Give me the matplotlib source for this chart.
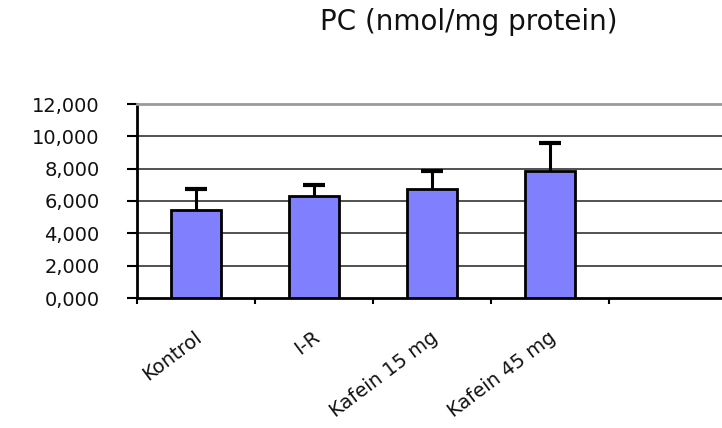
import matplotlib
matplotlib.use("Agg")
import matplotlib.pyplot as plt
from matplotlib.ticker import FuncFormatter, FixedLocator
from matplotlib.transforms import offset_copy

# PC levels per group (nmol/mg protein) with SD
groups = ["Kontrol", "I-R", "Kafein 15 mg", "Kafein 45 mg"]
pc_mean = [5.43, 6.30, 6.72, 7.87]
pc_sd = [1.29, 0.68, 1.15, 1.73]
n_slots = 5  # the category axis keeps one empty slot on the right
y_ticks = [0, 2, 4, 6, 8, 10, 12]

plt.rcParams["font.family"] = ["DejaVu Sans"]

fig = plt.figure(figsize=(7.22, 4.28), dpi=100)
ax = fig.add_axes([137 / 722, 130 / 428, 590 / 722, 194 / 428])

x = list(range(len(groups)))
ax.bar(x, pc_mean, width=0.42, color="#8080FF", edgecolor="black",
       linewidth=2.0, zorder=3)
_, caps, _ = ax.errorbar(x, pc_mean, yerr=[[0] * len(pc_sd), pc_sd], fmt="none",
                         ecolor="black", elinewidth=2.2, capsize=8, capthick=3,
                         zorder=4)
# only the upper half of each error bar is shown
caps[0].set_visible(False)

ax.set_xlim(-0.5, n_slots - 0.5)
ax.set_ylim(0, 12)

# horizontal gridlines
for v in y_ticks[1:-1]:
    ax.axhline(v, color="#222222", linewidth=1.1, zorder=1)

ax.spines["top"].set_color("#9a9a9a")
ax.spines["top"].set_linewidth(2.0)
ax.spines["right"].set_visible(False)
ax.spines["left"].set_linewidth(2.0)
ax.spines["bottom"].set_linewidth(2.0)

ax.yaxis.set_major_locator(FixedLocator(y_ticks))
ax.yaxis.set_major_formatter(FuncFormatter(lambda v, p: f"{v:.3f}".replace(".", ",")))
ax.tick_params(axis="y", direction="out", length=7, width=1.5, pad=20,
               labelsize=14, labelcolor="#111111")

# category boundaries carry the x tick marks
ax.xaxis.set_major_locator(FixedLocator([i - 0.5 for i in range(n_slots + 1)]))
ax.tick_params(axis="x", direction="out", length=4, width=1.5, labelbottom=False)

label_tf = offset_copy(ax.get_xaxis_transform(), fig=fig, x=4, y=-37, units="dots")
for xi, name in zip(x, groups):
    ax.text(xi, 0, name, transform=label_tf, rotation=37, rotation_mode="anchor",
            ha="right", va="center", fontsize=14, color="#111111")

fig.text(469 / 722, 1 - 22 / 428, "PC (nmol/mg protein)", ha="center",
         va="center", fontsize=20, color="#111111")

fig.savefig("out.png", dpi=100)
